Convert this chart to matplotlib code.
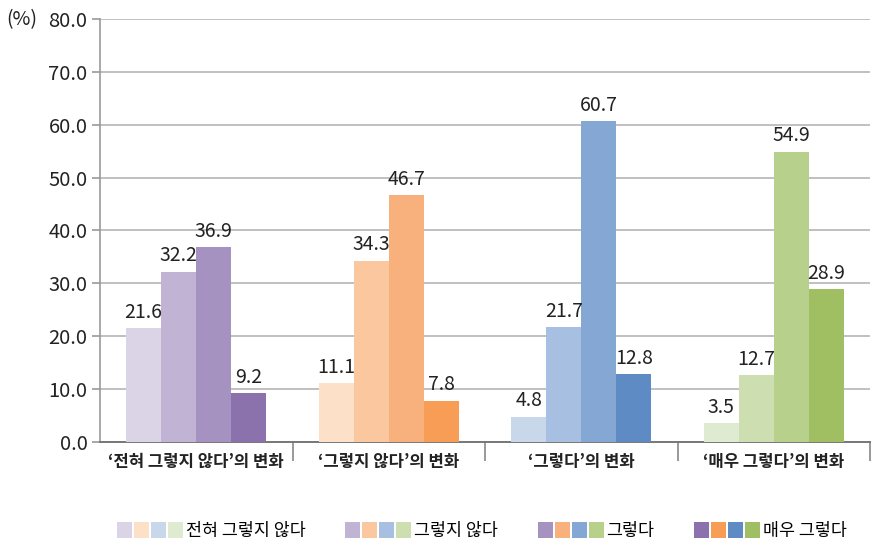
import numpy as np
import matplotlib
matplotlib.use('Agg')
import matplotlib.pyplot as plt
from matplotlib.patches import Patch
from matplotlib.legend_handler import HandlerTuple

plt.rcParams['font.family'] = ['Noto Sans CJK KR', 'DejaVu Sans']

# 데이터
groups = ['‘전혀 그렇지 않다’의 변화', '‘그렇지 않다’의 변화', '‘그렇다’의 변화', '‘매우 그렇다’의 변화']
series = ['전혀 그렇지 않다', '그렇지 않다', '그렇다', '매우 그렇다']
values = [
    [21.6, 32.2, 36.9, 9.2],
    [11.1, 34.3, 46.7, 7.8],
    [4.8, 21.7, 60.7, 12.8],
    [3.5, 12.7, 54.9, 28.9],
]
colors = [
    ['#dbd3e6', '#c0b3d4', '#a592c1', '#8c72ad'],
    ['#fde0c8', '#fbc79f', '#f8b07c', '#f79d55'],
    ['#c8d7ea', '#a7bfe0', '#85a7d4', '#5e8bc3'],
    ['#dfebd0', '#cddfb0', '#b7d08c', '#a0bf62'],
]
yticks = np.arange(0, 81, 10)

fig = plt.figure(figsize=(8.84, 5.48), dpi=100)
ax = fig.add_axes([100 / 884, 1 - 442 / 548, 770 / 884, 423 / 548])

w = 0.182
for g in range(4):
    for s in range(4):
        x = g + (s - 1.5) * w
        ax.bar(x, values[g][s], width=w, color=colors[g][s], zorder=3)
        ax.text(x, values[g][s] + 1.0, f'{values[g][s]:.1f}', ha='center', va='bottom',
                fontsize=14, color='#222222', zorder=4)

ax.set_xlim(-0.5, 3.5)
ax.set_ylim(0, 80)
ax.set_yticks(yticks)
ax.set_yticklabels([f'{v:.1f}' for v in yticks], fontsize=14.5, color='#222222')
ax.yaxis.grid(True, color='#b5b5b5', linewidth=1.2, zorder=0)
ax.tick_params(axis='y', length=6, color='#999999', width=1.2, pad=3)

ax.set_xticks([0.5, 1.5, 2.5, 3.5])
ax.set_xticklabels([])
ax.tick_params(axis='x', length=14, color='#888888', width=1.2)
ax.set_xticks(range(4), minor=True)
ax.set_xticklabels(groups, minor=True, fontsize=12, fontweight='bold', color='#222222')
ax.tick_params(axis='x', which='minor', length=0, pad=8)

for sp in ['top', 'right']:
    ax.spines[sp].set_visible(False)
ax.spines['left'].set_color('#999999')
ax.spines['left'].set_linewidth(1.2)
ax.spines['bottom'].set_color('#777777')
ax.spines['bottom'].set_linewidth(1.4)

fig.text(6 / 884, 1 - 20 / 548, '(%)', fontsize=14, va='center', ha='left', color='#222222')

handles = [tuple(Patch(facecolor=colors[g][s], edgecolor='none') for g in range(4)) for s in range(4)]
fig.legend(handles, series, handler_map={tuple: HandlerTuple(ndivide=None, pad=0.12)},
           loc='center', bbox_to_anchor=(0.545, 1 - 531 / 548), ncol=4, frameon=False,
           handlelength=3.8, handleheight=1.0, handletextpad=0.15, columnspacing=2.3,
           fontsize=12.5)

fig.savefig('out.png', dpi=100)
